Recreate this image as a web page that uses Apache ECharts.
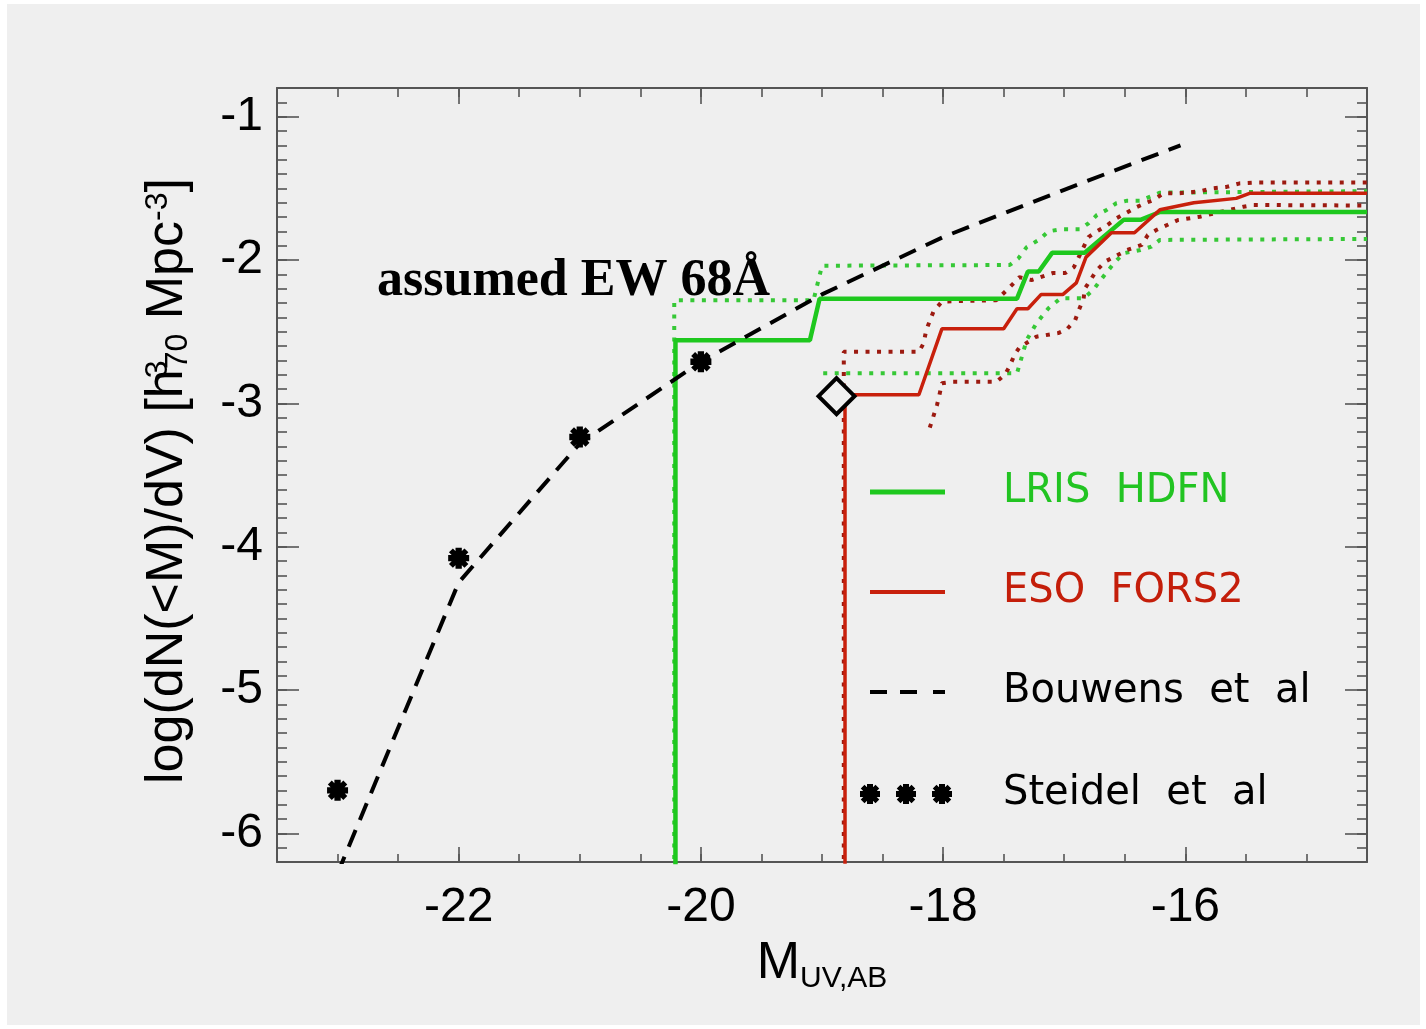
<!DOCTYPE html>
<html>
<head>
<meta charset="utf-8">
<script src="https://cdn.jsdelivr.net/npm/echarts@6/dist/echarts.min.js"></script>
<style>
html,body{margin:0;padding:0;background:#ffffff;}
#c{position:absolute;left:7px;top:4px;width:1413px;height:1021px;background:#efefef;}
</style>
</head>
<body>
<div id="c"></div>
<script>
// ---------- data ----------
const xMajorTicks = [-22, -20, -18, -16];
const yMajorTicks = [-6, -5, -4, -3, -2, -1];

const lrisSolid = [[-20.21,-6.5],[-20.21,-2.56],[-19.10,-2.56],[-19.02,-2.27],[-17.39,-2.27],[-17.30,-2.08],[-17.21,-2.08],[-17.10,-1.95],[-16.83,-1.95],[-16.51,-1.72],[-16.37,-1.72],[-16.21,-1.665],[-14.5,-1.665]];
const lrisUpper = [[-20.22,-6.5],[-20.22,-2.28],[-19.07,-2.28],[-19.00,-2.04],[-17.45,-2.035],[-17.38,-1.99],[-17.31,-1.91],[-17.21,-1.86],[-17.13,-1.80],[-17.03,-1.786],[-16.87,-1.786],[-16.80,-1.744],[-16.73,-1.686],[-16.65,-1.651],[-16.57,-1.604],[-16.48,-1.586],[-16.37,-1.586],[-16.29,-1.558],[-16.21,-1.53],[-14.5,-1.52]];
const lrisLower = [[-18.99,-2.79],[-17.39,-2.79],[-17.35,-2.675],[-17.31,-2.558],[-17.23,-2.442],[-17.13,-2.337],[-17.03,-2.267],[-16.84,-2.267],[-16.76,-2.209],[-16.70,-2.14],[-16.59,-2.023],[-16.51,-1.953],[-16.37,-1.93],[-16.28,-1.907],[-16.21,-1.86],[-14.5,-1.853]];

const forsSolid = [[-18.81,-6.5],[-18.81,-2.94],[-18.20,-2.94],[-18.01,-2.48],[-17.50,-2.48],[-17.39,-2.34],[-17.30,-2.34],[-17.19,-2.24],[-17.01,-2.24],[-16.90,-2.16],[-16.82,-1.98],[-16.61,-1.81],[-16.42,-1.81],[-16.21,-1.65],[-15.93,-1.60],[-15.58,-1.57],[-15.47,-1.535],[-14.5,-1.535]];
const forsUpper = [[-18.82,-6.5],[-18.82,-2.64],[-18.20,-2.64],[-18.16,-2.58],[-18.14,-2.49],[-18.08,-2.36],[-18.01,-2.29],[-17.56,-2.28],[-17.45,-2.19],[-17.37,-2.12],[-17.27,-2.14],[-17.09,-2.09],[-16.99,-2.09],[-16.92,-2.05],[-16.84,-1.91],[-16.80,-1.84],[-16.73,-1.80],[-16.65,-1.76],[-16.57,-1.71],[-16.40,-1.63],[-16.32,-1.60],[-16.26,-1.58],[-16.18,-1.535],[-16.07,-1.535],[-15.99,-1.53],[-15.88,-1.52],[-15.77,-1.50],[-15.66,-1.49],[-15.55,-1.465],[-15.44,-1.46],[-14.5,-1.46]];
const forsLower = [[-18.11,-3.17],[-18.08,-3.09],[-18.05,-3.01],[-18.03,-2.94],[-18.01,-2.86],[-17.93,-2.85],[-17.56,-2.85],[-17.49,-2.80],[-17.45,-2.74],[-17.41,-2.66],[-17.37,-2.61],[-17.23,-2.535],[-17.05,-2.51],[-16.98,-2.485],[-16.91,-2.42],[-16.88,-2.35],[-16.84,-2.27],[-16.83,-2.20],[-16.73,-2.07],[-16.66,-2.01],[-16.48,-1.93],[-16.36,-1.895],[-16.31,-1.826],[-16.24,-1.791],[-16.15,-1.756],[-16.06,-1.721],[-15.88,-1.698],[-15.52,-1.628],[-15.44,-1.616],[-14.5,-1.62]];

const bouwens = [[-23,-6.28],[-22,-4.25],[-21,-3.28],[-20,-2.71],[-19,-2.24],[-18,-1.84],[-17,-1.51],[-16.04,-1.2]];
const steidel = [[-23,-5.70],[-22,-4.08],[-21,-3.235],[-20,-2.71]];
const diamondPoint = [[-18.88,-2.95]];

// ---------- styles ----------
const GREEN = '#1ec81e', GREEN_DOT = '#36c836';
const RED = '#c8200c', RED_DOT = '#9c1a10';
const AXIS = '#555555';
const FONT = 'Liberation Sans';

// star glyph (symbol shape)
function starPath(cx, cy, r) {
  const plus = [[-1.2,-4],[1.2,-4],[1.2,-1.2],[4,-1.2],[4,1.2],[1.2,1.2],[1.2,4],[-1.2,4],[-1.2,1.2],[-4,1.2],[-4,-1.2],[-1.2,-1.2]];
  const cross = [[-3.7,-2.2],[-2.2,-3.7],[0,-1.5],[2.2,-3.7],[3.7,-2.2],[1.5,0],[3.7,2.2],[2.2,3.7],[0,1.5],[-2.2,3.7],[-3.7,2.2],[-1.5,0]];
  const s = r / 4;
  const sub = pts => 'M' + pts.map(p => (cx + p[0]*s).toFixed(2) + ',' + (cy + p[1]*s).toFixed(2)).join(' L') + ' Z';
  return sub(plus) + ' ' + sub(cross);
}
const STAR = 'path://' + starPath(0, 0, 4);
const STAR3 = 'path://' + starPath(10, 11, 10) + ' ' + starPath(46, 11, 10) + ' ' + starPath(82, 11, 10);
const SOLID_ICON_5 = 'path://M0,0 L75,0 L75,5 L0,5 Z';
const SOLID_ICON_4 = 'path://M0,0 L75,0 L75,4 L0,4 Z';
const DASH_ICON = 'path://M0,0 L17,0 L17,4 L0,4 Z M30,0 L47,0 L47,4 L30,4 Z M63,0 L75,0 L75,4 L63,4 Z';

const chart = echarts.init(document.getElementById('c'), null, {renderer: 'canvas'});

const tickStyle = {color: AXIS, width: 1.6};
const xRange = {min: -23.5, max: -14.5};
const yRange = {min: -6.2, max: -0.8};

function legendItem(name, color, icon, top, left, w, h, padLeft) {
  return {
    data: [{name: name, icon: icon, textStyle: {color: color}}],
    left: left, top: top, itemWidth: w, itemHeight: h, padding: 0,
    selectedMode: false,
    formatter: n => n.replace(/ /g, '  '),
    textStyle: {fontFamily: 'DejaVu Sans', fontSize: 40, lineHeight: 40, padding: [0,0,0,padLeft]}
  };
}

const option = {
  animation: false,
  backgroundColor: '#efefef',
  title: {
    text: 'assumed EW 68Å',
    left: 370, top: 248, padding: 0,
    textStyle: {fontFamily: 'Liberation Serif', fontWeight: 'bold', fontSize: 52, lineHeight: 60, color: '#000'}
  },
  grid: {left: 270, right: 53, top: 84, bottom: 163, containLabel: false},
  legend: [
    legendItem('LRIS HDFN', '#22c422', SOLID_ICON_5, 468, 863, 75, 5, 53),
    legendItem('ESO FORS2', '#c41e0a', SOLID_ICON_4, 568, 863, 75, 4, 53),
    legendItem('Bouwens et al', '#000', DASH_ICON, 668, 863, 75, 4, 53),
    legendItem('Steidel et al', '#000', STAR3, 770, 853, 92, 22, 46)
  ],
  xAxis: [
    {
      type: 'value', position: 'bottom', ...xRange,
      axisLine: {show: true, onZero: false, lineStyle: {color: AXIS, width: 2}},
      axisTick: {show: true, inside: true, length: 15, customValues: xMajorTicks, lineStyle: tickStyle},
      axisLabel: {show: true, customValues: xMajorTicks, margin: 22, fontSize: 48, fontFamily: FONT, color: '#000'},
      splitLine: {show: false},
      name: '{m|M}{s|UV,AB}', nameLocation: 'middle', nameGap: 72,
      nameTextStyle: {rich: {
        m: {fontSize: 52, fontFamily: FONT, color: '#000', lineHeight: 60},
        s: {fontSize: 30, fontFamily: FONT, color: '#000', lineHeight: 36, verticalAlign: 'bottom'}
      }}
    },
    {
      type: 'value', position: 'bottom', ...xRange, interval: 0.5,
      axisLine: {show: false, onZero: false},
      axisTick: {show: true, inside: true, length: 8, lineStyle: tickStyle},
      axisLabel: {show: false}, splitLine: {show: false}
    },
    {
      type: 'value', position: 'top', ...xRange,
      axisLine: {show: true, onZero: false, lineStyle: {color: AXIS, width: 2}},
      axisTick: {show: true, inside: true, length: 16, customValues: xMajorTicks, lineStyle: tickStyle},
      axisLabel: {show: false}, splitLine: {show: false}
    },
    {
      type: 'value', position: 'top', ...xRange, interval: 0.5,
      axisLine: {show: false, onZero: false},
      axisTick: {show: true, inside: true, length: 9, lineStyle: tickStyle},
      axisLabel: {show: false}, splitLine: {show: false}
    }
  ],
  yAxis: [
    {
      type: 'value', position: 'left', ...yRange,
      axisLine: {show: true, onZero: false, lineStyle: {color: AXIS, width: 2}},
      axisTick: {show: true, inside: true, length: 22, customValues: yMajorTicks, lineStyle: tickStyle},
      axisLabel: {show: true, customValues: yMajorTicks, margin: 14, fontSize: 48, fontFamily: FONT, color: '#000'},
      splitLine: {show: false},
      name: '{a|log(dN(<M)/dV) [h}{p|3}{b|70}{a| Mpc}{q|-3}{a|]}',
      nameLocation: 'middle', nameRotate: 90, nameGap: 83,
      nameTextStyle: {padding: [0, 12, 0, 0], rich: {
        a: {fontSize: 52, fontFamily: FONT, color: '#000', lineHeight: 52},
        p: {fontSize: 32, fontFamily: FONT, color: '#000', lineHeight: 32, verticalAlign: 'top', width: 0, align: 'left'},
        b: {fontSize: 32, fontFamily: FONT, color: '#000', lineHeight: 32, verticalAlign: 'bottom'},
        q: {fontSize: 32, fontFamily: FONT, color: '#000', lineHeight: 32, verticalAlign: 'top'}
      }}
    },
    {
      type: 'value', position: 'left', ...yRange, interval: 0.1,
      axisLine: {show: false, onZero: false},
      axisTick: {show: true, inside: true, length: 10, lineStyle: tickStyle},
      axisLabel: {show: false}, splitLine: {show: false}
    },
    {
      type: 'value', position: 'right', ...yRange,
      axisLine: {show: true, onZero: false, lineStyle: {color: AXIS, width: 2}},
      axisTick: {show: true, inside: true, length: 22, customValues: yMajorTicks, lineStyle: tickStyle},
      axisLabel: {show: false}, splitLine: {show: false}
    },
    {
      type: 'value', position: 'right', ...yRange, interval: 0.1,
      axisLine: {show: false, onZero: false},
      axisTick: {show: true, inside: true, length: 10, lineStyle: tickStyle},
      axisLabel: {show: false}, splitLine: {show: false}
    }
  ],
  series: [
    {name: 'LRIS upper', type: 'line', data: lrisUpper, symbol: 'none', clip: true, z: 2,
     lineStyle: {color: GREEN_DOT, width: 4, type: [4, 7.5], cap: 'butt'}},
    {name: 'LRIS lower', type: 'line', data: lrisLower, symbol: 'none', clip: true, z: 2,
     lineStyle: {color: GREEN_DOT, width: 4, type: [4, 7.5], cap: 'butt'}},
    {name: 'FORS upper', type: 'line', data: forsUpper, symbol: 'none', clip: true, z: 2,
     lineStyle: {color: RED_DOT, width: 4, type: [4, 7.5], cap: 'butt'}},
    {name: 'FORS lower', type: 'line', data: forsLower, symbol: 'none', clip: true, z: 2,
     lineStyle: {color: RED_DOT, width: 4, type: [4, 7.5], cap: 'butt'}},
    {name: 'LRIS HDFN', type: 'line', data: lrisSolid, symbol: 'none', clip: true, z: 3,
     itemStyle: {color: GREEN}, lineStyle: {color: GREEN, width: 4.5}},
    {name: 'ESO FORS2', type: 'line', data: forsSolid, symbol: 'none', clip: true, z: 3,
     itemStyle: {color: RED}, lineStyle: {color: RED, width: 3.5}},
    {name: 'Bouwens et al', type: 'line', data: bouwens, symbol: 'none', clip: true, z: 4,
     itemStyle: {color: '#000'}, lineStyle: {color: '#000', width: 4, type: [18, 11]}},
    {name: 'Steidel et al', type: 'scatter', data: steidel, symbol: STAR, symbolSize: 21, z: 5,
     itemStyle: {color: '#000', opacity: 1}},
    {name: 'marker', type: 'scatter', data: diamondPoint, symbol: 'diamond', symbolSize: [36, 36], z: 6,
     itemStyle: {color: '#efefef', borderColor: '#000', borderWidth: 4, opacity: 1}}
  ]
};
chart.setOption(option);
</script>
</body>
</html>
